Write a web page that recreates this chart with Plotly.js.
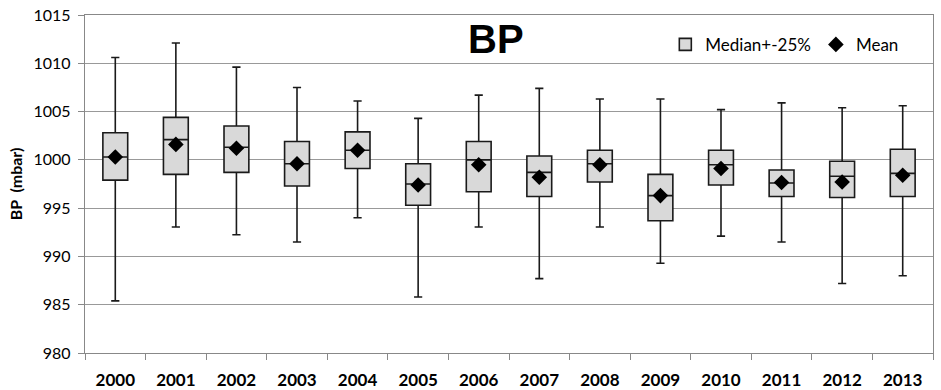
<!DOCTYPE html>
<html>
<head>
<meta charset="utf-8">
<script src="https://cdn.plot.ly/plotly-3.0.1.min.js"></script>
<style>html,body{margin:0;padding:0;background:#fff;}#chart{width:941px;height:390px;}</style>
</head>
<body>
<div id="chart"></div>
<script>
const years = ["2000","2001","2002","2003","2004","2005","2006","2007","2008","2009","2010","2011","2012","2013"];
const maxVals    = [1010.6, 1012.1, 1009.6, 1007.5, 1006.1, 1004.3, 1006.7, 1007.4, 1006.3, 1006.3, 1005.2, 1005.9, 1005.4, 1005.6];
const q3Vals     = [1002.8, 1004.4, 1003.5, 1001.9, 1002.9, 999.6, 1001.9, 1000.4, 1001.0, 998.5, 1001.0, 998.95, 999.85, 1001.1];
const medianVals = [1000.3, 1002.1, 1001.3, 999.6, 1001.0, 997.5, 1000.0, 998.7, 999.6, 996.3, 999.5, 997.6, 998.3, 998.6];
const q1Vals     = [997.9, 998.5, 998.7, 997.3, 999.1, 995.3, 996.7, 996.2, 997.7, 993.7, 997.4, 996.2, 996.1, 996.2];
const minVals    = [985.4, 993.05, 992.25, 991.5, 994.0, 985.8, 993.05, 987.7, 993.05, 989.3, 992.1, 991.5, 987.2, 988.0];
const meanVals   = [1000.3, 1001.6, 1001.2, 999.6, 1001.0, 997.4, 999.5, 998.2, 999.5, 996.3, 999.1, 997.65, 997.7, 998.4];

const font = "Lato, 'Open Sans', sans-serif";

const traces = [
  {
    type: "box",
    name: "Median+-25%",
    x: years,
    q1: q1Vals,
    median: medianVals,
    q3: q3Vals,
    lowerfence: minVals,
    upperfence: maxVals,
    width: 0.41,
    whiskerwidth: 0.33,
    fillcolor: "#d9d9d9",
    line: {color: "#1a1a1a", width: 1.6},
    hoverinfo: "skip"
  },
  {
    type: "scatter",
    mode: "markers",
    name: "Mean",
    x: years,
    y: meanVals,
    marker: {symbol: "diamond", size: 12, color: "#000"},
    hoverinfo: "skip"
  }
];

const layout = {
  width: 941, height: 390,
  margin: {l: 85, r: 8, t: 15, b: 37},
  paper_bgcolor: "#fff", plot_bgcolor: "#fff",
  font: {family: font, size: 14, color: "#000"},
  showlegend: true,
  legend: {
    orientation: "h",
    x: 0.965, xanchor: "right",
    y: 0.965, yanchor: "top",
    font: {family: font, size: 17, color: "#000"},
    itemwidth: 30,
    bgcolor: "rgba(255,255,255,0)"
  },
  annotations: [{
    text: "<b>BP</b>", xref: "paper", yref: "paper",
    x: (496 - 85) / 848, y: 1.0, xanchor: "center", yanchor: "top",
    showarrow: false,
    font: {family: "'Liberation Sans', Arial, sans-serif", size: 40, color: "#000"}
  }],
  xaxis: {
    type: "category",
    categoryorder: "array", categoryarray: years,
    range: [-0.5, years.length - 0.5],
    tickson: "boundaries",
    ticks: "outside", ticklen: 6, tickcolor: "#888", tickwidth: 1,
    showline: true, linecolor: "#888", linewidth: 1.3, mirror: true,
    showgrid: false,
    tickfont: {family: font, size: 17, color: "#000", weight: "bold"},
    ticklabelstandoff: 11,
    fixedrange: true
  },
  yaxis: {
    range: [980, 1015], dtick: 5, tick0: 980,
    ticks: "outside", ticklen: 6, tickcolor: "#888", tickwidth: 1,
    showline: true, linecolor: "#888", linewidth: 1.3, mirror: true,
    showgrid: true, gridcolor: "#999", gridwidth: 1.2,
    zeroline: false,
    tickfont: {family: font, size: 16, color: "#000"},
    ticklabelstandoff: 4,
    title: {text: "<b>BP\u00a0 (mbar)</b>", font: {family: font, size: 16, color: "#000"}, standoff: 6},
    fixedrange: true
  }
};

Plotly.newPlot("chart", traces, layout, {displayModeBar: false, staticPlot: true});
</script>
</body>
</html>
